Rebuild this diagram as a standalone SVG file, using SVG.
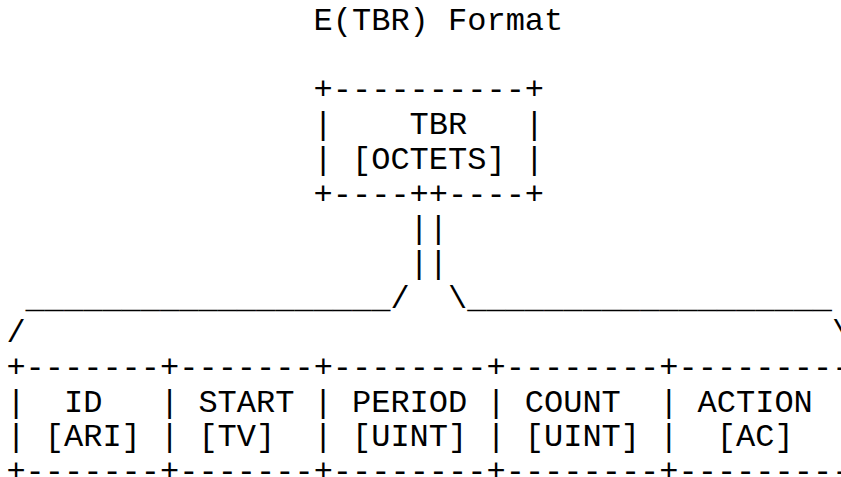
<svg xmlns="http://www.w3.org/2000/svg" width="841" height="477" viewBox="0 0 841 477">
<style>
text{font-family:"Liberation Mono","DejaVu Sans Mono",monospace;font-size:32px;fill:#000;white-space:pre}
</style>
<rect width="841" height="477" fill="#fff"/>
<g id="title"><text x="313.6" y="30">E(TBR) Format</text></g>
<g id="tbr">
<text x="313.6" y="99.4">+----------+</text>
<text x="313.6" y="134.1">|</text><text x="409.6" y="134.1">TBR</text><text x="524.8" y="134.1">|</text>
<text x="313.6" y="168.8">|</text><text x="352" y="168.8">[OCTETS]</text><text x="524.8" y="168.8">|</text>
<text x="313.6" y="203.5">+----++----+</text>
</g>
<g id="connectors">
<text x="409.6" y="238.2">||</text>
<text x="409.6" y="272.9">||</text>
<text x="25.6" y="307.6">___________________/</text>
<text x="448" y="307.6">\___________________</text>
<text x="6.4" y="342.3">/</text>
<text x="832" y="342.3">\</text>
</g>
<g id="table">
<text x="6.4" y="377">+-------+-------+--------+--------+---------</text>
<g id="bars">
<text x="6.4" y="411.7">|</text><text x="160" y="411.7">|</text><text x="313.6" y="411.7">|</text><text x="486.4" y="411.7">|</text><text x="659.2" y="411.7">|</text>
<text x="6.4" y="446.4">|</text><text x="160" y="446.4">|</text><text x="313.6" y="446.4">|</text><text x="486.4" y="446.4">|</text><text x="659.2" y="446.4">|</text>
</g>
<g id="field-id"><text x="64" y="411.7">ID</text><text x="44.8" y="446.4">[ARI]</text></g>
<g id="field-start"><text x="198.4" y="411.7">START</text><text x="198.4" y="446.4">[TV]</text></g>
<g id="field-period"><text x="352" y="411.7">PERIOD</text><text x="352" y="446.4">[UINT]</text></g>
<g id="field-count"><text x="524.8" y="411.7">COUNT</text><text x="524.8" y="446.4">[UINT]</text></g>
<g id="field-action"><text x="697.6" y="411.7">ACTION</text><text x="716.8" y="446.4">[AC]</text></g>
<text x="6.4" y="481.1">+-------+-------+--------+--------+---------</text>
</g>
</svg>
